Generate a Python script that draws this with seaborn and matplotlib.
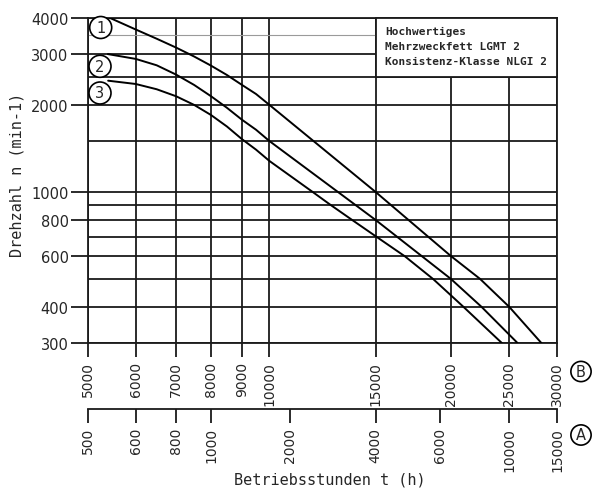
import numpy as np
import pandas as pd
import matplotlib
matplotlib.use("Agg")
import matplotlib.pyplot as plt
import seaborn as sns
from matplotlib.ticker import FixedLocator, NullLocator, FixedFormatter
from matplotlib.patches import Rectangle

# ---- data ----
curve1_hours = [5440, 6000, 6500, 7000, 7500, 8000, 8500, 9000, 9500, 10000,
                15000, 20000, 22360, 25000, 28260]
curve1_speed = [4000, 3650, 3391, 3160, 2943, 2736, 2540, 2348, 2183, 2001,
                1000, 600, 500, 400, 300]
curve2_hours = [5395, 6000, 6500, 7000, 7500, 8000, 8500, 9000, 9500, 10000,
                15000, 20000, 22490, 25800]
curve2_speed = [3000, 2887, 2744, 2548, 2346, 2144, 1956, 1779, 1642, 1500,
                800, 500, 400, 300]
curve3_hours = [5400, 6000, 6500, 7000, 7500, 8000, 8500, 9000, 9500, 10000,
                11755, 12600, 13690, 15000, 16790, 18700, 20990, 24300]
curve3_speed = [2427, 2364, 2267, 2144, 2001, 1846, 1685, 1524, 1401, 1280,
                1005, 905, 802, 703, 598, 499, 400, 300]

b_ticks = [5000, 6000, 7000, 8000, 9000, 10000, 15000, 20000, 25000, 30000]
a_tick_labels = ["500", "600", "800", "1000", "2000", "4000", "6000", "10000", "15000"]
a_tick_pos_on_b = [5000, 6000, 7000, 8000, 10800, 15000, 19190, 25000, 30000]
y_major = [300, 400, 600, 800, 1000, 2000, 3000, 4000]
y_minor = [500, 700, 900, 1500, 2500]
y_thin = 3500

df = pd.concat([
    pd.DataFrame({"hours": curve1_hours, "speed": curve1_speed, "curve": "1"}),
    pd.DataFrame({"hours": curve2_hours, "speed": curve2_speed, "curve": "2"}),
    pd.DataFrame({"hours": curve3_hours, "speed": curve3_speed, "curve": "3"}),
])

sns.set_style("white")
plt.rcParams["font.family"] = ["DejaVu Sans"]

W, H = 593, 489
fig = plt.figure(figsize=(W / 100, H / 100), dpi=100)
L, R, T, B = 88, 557, 19, 344
ax = fig.add_axes([L / W, 1 - B / H, (R - L) / W, (B - T) / H])

ax.set_xscale("log")
ax.set_yscale("log")
ax.set_xlim(5000, 30000)
ax.set_ylim(300, 4000)

gc = "#1a1a1a"
glw = 1.3
ax.xaxis.set_major_locator(FixedLocator(b_ticks))
ax.xaxis.set_major_formatter(FixedFormatter([str(v) for v in b_ticks]))
ax.xaxis.set_minor_locator(NullLocator())
ax.yaxis.set_major_locator(FixedLocator(y_major))
ax.yaxis.set_major_formatter(FixedFormatter([str(v) for v in y_major]))
ax.yaxis.set_minor_locator(FixedLocator(y_minor))
ax.yaxis.set_minor_formatter(FixedFormatter([""] * len(y_minor)))

ax.grid(True, which="major", axis="both", color=gc, lw=glw, zorder=1)
ax.grid(True, which="minor", axis="y", color=gc, lw=glw, zorder=1)
ax.set_axisbelow(True)
ax.axhline(y_thin, color="#9a9a9a", lw=0.8, zorder=1)

ax.tick_params(axis="y", which="major", direction="out", length=12, width=glw,
               color=gc, labelsize=10.5, pad=2, left=True)
ax.tick_params(axis="y", which="minor", length=0)
ax.tick_params(axis="x", which="major", direction="out", length=10, width=glw,
               color=gc, labelsize=10, pad=3, bottom=True, labelrotation=90)
for s in ax.spines.values():
    s.set_color(gc)
    s.set_linewidth(glw)

sns.lineplot(data=df, x="hours", y="speed", units="curve", estimator=None,
             sort=False, color="black", lw=1.4, ax=ax, zorder=4, legend=False)
ax.set_xlabel("")
ax.set_ylabel("")

# legend box (covers grid)
box = Rectangle((15000, 2500), 15000, 1500, transform=ax.transData,
                facecolor="white", edgecolor=gc, lw=glw, zorder=3, clip_on=False)
ax.add_patch(box)
for i, line in enumerate(["Hochwertiges", "Mehrzweckfett LGMT 2", "Konsistenz-Klasse NLGI 2"]):
    fig.text(385 / W, 1 - (32 + i * 14.8) / H, line, family="DejaVu Sans Mono",
             fontweight="bold", fontsize=8.0, va="center", ha="left", zorder=5)

# circled curve labels
for lab, (px, py) in zip(["1", "2", "3"], [(100.7, 28.5), (100, 67.3), (100, 94)]):
    fig.text(px / W, 1 - py / H, lab, fontsize=10.5, ha="center", va="center",
             bbox=dict(boxstyle="circle,pad=0.24", fc="white", ec="black", lw=1.2),
             zorder=6)
for lab, (px, py) in zip(["B", "A"], [(581, 372.5), (581, 436)]):
    fig.text(px / W, 1 - py / H, lab, fontsize=10.5, ha="center", va="center",
             bbox=dict(boxstyle="circle,pad=0.18", fc="white", ec="black", lw=1.2))

# secondary scale A
ax2 = fig.add_axes([L / W, 1 - 410 / H, (R - L) / W, 0.0001])
ax2.set_xscale("log")
ax2.set_xlim(5000, 30000)
ax2.set_facecolor("none")
for k in ["left", "right", "top"]:
    ax2.spines[k].set_visible(False)
ax2.spines["bottom"].set_color(gc)
ax2.spines["bottom"].set_linewidth(glw)
ax2.set_yticks([])
ax2.xaxis.set_major_locator(FixedLocator(a_tick_pos_on_b))
ax2.xaxis.set_major_formatter(FixedFormatter(a_tick_labels))
ax2.xaxis.set_minor_locator(NullLocator())
ax2.tick_params(axis="x", which="major", direction="out", length=10, width=glw,
                color=gc, labelsize=10, pad=3, bottom=True, labelrotation=90)

fig.text(330 / W, 1 - 480 / H, "Betriebsstunden t (h)", family="DejaVu Sans Mono",
         fontsize=11, ha="center", va="center")
fig.text(17 / W, 1 - 175 / H, "Drehzahl n (min-1)", family="DejaVu Sans Mono",
         fontsize=11, ha="center", va="center", rotation=90)

fig.savefig("out.png", dpi=100, facecolor="white")
